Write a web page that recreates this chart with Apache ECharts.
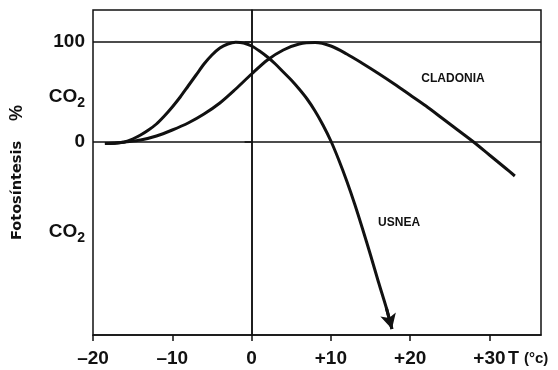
<!DOCTYPE html>
<html>
<head>
<meta charset="utf-8">
<script src="https://cdn.jsdelivr.net/npm/echarts@6/dist/echarts.min.js"></script>
<style>
  html, body { margin: 0; padding: 0; background: #fff; }
  #chart { width: 558px; height: 370px; }
</style>
</head>
<body>
<div id="chart"></div>
<script>
// temperature (°C) and net photosynthesis (% CO2)
const usneaT = [-18.5, -17, -16, -15, -14, -13, -12, -11, -10, -9, -8, -7, -6, -5, -4, -3, -2, -1, 0, 1, 2, 3, 4, 5, 6, 7, 8, 9, 10, 11, 12, 13, 14, 15, 16, 17, 17.7];
const usneaP = [-1.5, -1, 0, 3, 7, 12, 18, 26, 35, 45, 56, 67, 78, 87, 94, 98, 99.7, 99, 96, 91, 85, 78, 70, 62, 53, 43, 31, 17, 1, -18, -39, -62, -87, -113, -140, -166, -187];
const cladoniaT = [-18.5, -17, -16, -14, -12, -10, -8, -6, -4, -2, 0, 2, 4, 6, 8, 10, 12, 14, 16, 18, 20, 22, 24, 26, 28, 30, 32, 33.2];
const cladoniaP = [-1.5, -1, 0, 2, 6, 12, 19, 28, 39, 53, 68, 82, 92, 98, 99.5, 96, 88, 78.5, 68.5, 58, 47, 36, 24, 12, 0, -13, -26, -34];

const xTicks = [-20, -10, 0, 10, 20, 30];
const yTicks = [0, 100];
const co2Marks = [45, -90];
const refLinesY = [0, 100];
const refLinesX = [0];

const font = '"Liberation Sans", Arial, sans-serif';
const chart = echarts.init(document.getElementById('chart'));

const toPairs = (xs, ys) => xs.map((x, i) => [x, ys[i]]);
const usnea = toPairs(usneaT, usneaP);
const cladonia = toPairs(cladoniaT, cladoniaP);
const n = usnea.length;

chart.setOption({
  animation: false,
  backgroundColor: '#fff',
  grid: {
    left: 89, right: 17, top: 10, bottom: 35,
    show: true,
    borderColor: '#111',
    borderWidth: 1.5
  },
  xAxis: {
    type: 'value',
    min: -20,
    max: 36.5,
    axisLine: { onZero: false, lineStyle: { color: '#111', width: 1.5 } },
    axisTick: { customValues: xTicks, length: 6, lineStyle: { color: '#111', width: 1.5 } },
    axisLabel: {
      customValues: xTicks,
      margin: 14,
      color: '#111',
      fontFamily: font,
      fontWeight: 'bold',
      fontSize: 19,
      formatter: v => v > 0 ? '+' + v : (v < 0 ? '\u2013' + Math.abs(v) : '' + v)
    },
    splitLine: { show: false }
  },
  yAxis: {
    type: 'value',
    min: -193,
    max: 132,
    name: '{f|Fotosíntesis}{p|%}',
    nameLocation: 'middle',
    nameRotate: 90,
    nameGap: 67,
    nameTextStyle: {
      color: '#111',
      rich: {
        f: { fontFamily: '"DejaVu Sans", sans-serif', fontWeight: 'bold', fontSize: 14.5, color: '#111' },
        p: { fontFamily: font, fontWeight: 'bold', fontSize: 18, color: '#111', padding: [0, 0, 0, 20] }
      }
    },
    axisLine: { lineStyle: { color: '#111', width: 1.5 } },
    axisTick: { customValues: yTicks, length: 7, lineStyle: { color: '#111', width: 1.5 } },
    axisLabel: {
      customValues: yTicks.concat(co2Marks),
      margin: 8,
      color: '#111',
      formatter: v => yTicks.indexOf(v) >= 0 ? '{n|' + v + '}' : '{co|CO}{sub|2}',
      rich: {
        n: { fontFamily: font, fontWeight: 'bold', fontSize: 19, color: '#111' },
        co: { fontFamily: font, fontWeight: 'bold', fontSize: 19, color: '#111', lineHeight: 22 },
        sub: { fontFamily: font, fontWeight: 'bold', fontSize: 14, color: '#111', lineHeight: 22, padding: [12, 0, 0, 0] }
      }
    },
    splitLine: { show: false }
  },
  graphic: [{
    type: 'text',
    left: 508,
    top: 350,
    style: {
      text: 'T {s|(°c)}',
      font: 'bold 18px ' + font,
      fill: '#111',
      rich: { s: { font: 'bold 15px ' + font, fill: '#111' } }
    }
  }],
  series: [
    {
      name: 'CLADONIA',
      type: 'line',
      data: cladonia,
      smooth: 0.3,
      showSymbol: false,
      lineStyle: { color: '#111', width: 3 },
      markLine: {
        silent: true,
        symbol: 'none',
        label: { show: false },
        lineStyle: { color: '#111', width: 1.5, type: 'solid' },
        data: refLinesY.map(v => ({ yAxis: v })).concat(refLinesX.map(v => ({ xAxis: v })))
      },
      markPoint: {
        silent: true,
        symbolSize: 0,
        data: [{
          coord: [25.4, 63],
          label: { show: true, position: 'inside', formatter: 'CLADONIA', color: '#111', fontFamily: font, fontWeight: 'bold', fontSize: 12 }
        }]
      }
    },
    {
      name: 'USNEA',
      type: 'line',
      data: usnea,
      smooth: 0.3,
      showSymbol: false,
      lineStyle: { color: '#111', width: 3 },
      markLine: {
        silent: true,
        symbol: ['none', 'arrow'],
        symbolSize: [12, 15],
        label: { show: false },
        lineStyle: { color: '#111', width: 3, type: 'solid' },
        data: [[{ coord: usnea[n - 2] }, { coord: usnea[n - 1] }]]
      },
      markPoint: {
        silent: true,
        symbolSize: 0,
        data: [{
          coord: [18.6, -81],
          label: { show: true, position: 'inside', formatter: 'USNEA', color: '#111', fontFamily: font, fontWeight: 'bold', fontSize: 12 }
        }]
      }
    }
  ]
});
</script>
</body>
</html>
